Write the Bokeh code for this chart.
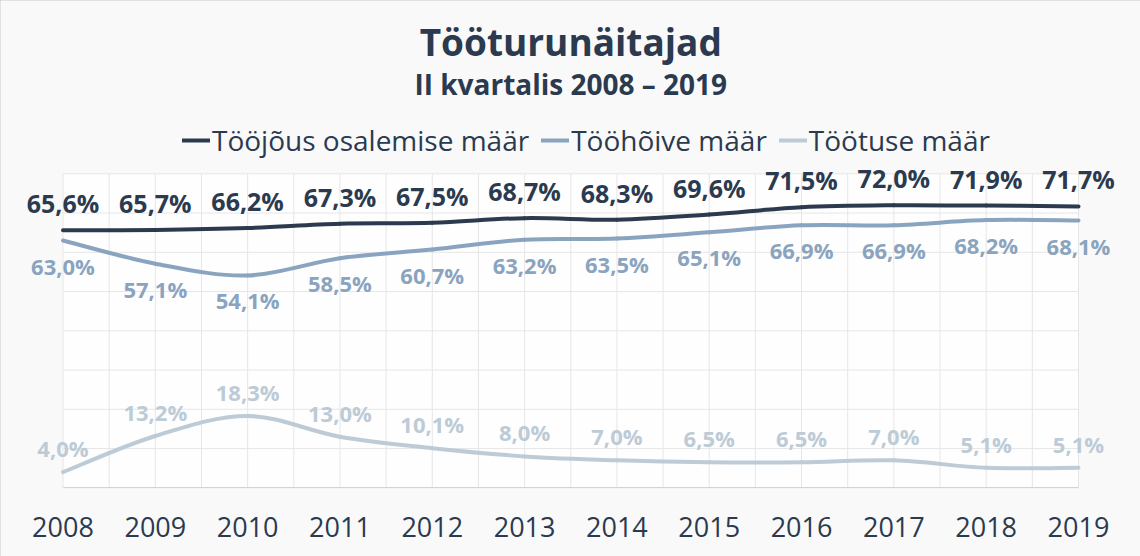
import numpy as np
from bokeh.plotting import figure
from bokeh.models import (ColumnDataSource, LabelSet, Label, Legend, LegendItem,
                          FixedTicker, Range1d)
from bokeh.core.properties import value
from bokeh.embed import file_html
from bokeh.resources import INLINE

# ---- data ----
years = [2008, 2009, 2010, 2011, 2012, 2013, 2014, 2015, 2016, 2017, 2018, 2019]
year_labels = [str(y) for y in years]
osalemise_maar = [65.6, 65.7, 66.2, 67.3, 67.5, 68.7, 68.3, 69.6, 71.5, 72.0, 71.9, 71.7]
hoive_maar = [63.0, 57.1, 54.1, 58.5, 60.7, 63.2, 63.5, 65.1, 66.9, 66.9, 68.2, 68.1]
tootuse_maar = [4.0, 13.2, 18.3, 13.0, 10.1, 8.0, 7.0, 6.5, 6.5, 7.0, 5.1, 5.1]
series_names = ["Tööjõus osalemise määr", "Tööhõive määr", "Töötuse määr"]
title_text = "Tööturunäitajad"
subtitle_text = "II kvartalis 2008 – 2019"

DARK = "#2b3a4f"
MED = "#8aa4bf"
LIGHT = "#bccbd6"
FONT = "Open Sans"

# plotting area (value axis 0..80, years 2008..2019)
Y_MIN, Y_MAX, Y_STEP = 0, 80, 10
X_MIN, X_MAX = years[0], years[-1]

# canvas geometry -> ranges so that the plotting area sits at the right pixels
W, H = 1140, 556
left_px, right_px, top_px, bottom_px = 62.5, 1078.0, 173.3, 487.3
xs_per_px = (X_MAX - X_MIN) / (right_px - left_px)
ys_per_px = (Y_MAX - Y_MIN) / (bottom_px - top_px)
x_range = Range1d(X_MIN - left_px * xs_per_px, X_MAX + (W - right_px) * xs_per_px)
y_range = Range1d(Y_MIN - (H - bottom_px) * ys_per_px, Y_MAX + top_px * ys_per_px)


def smooth_segments(xs, ys):
    """Catmull-Rom style bezier control points for a smoothed line."""
    x = np.asarray(xs, float)
    y = np.asarray(ys, float)
    n = len(x)
    d = dict(x0=[], y0=[], x1=[], y1=[], cx0=[], cy0=[], cx1=[], cy1=[])
    for i in range(n - 1):
        im1 = max(i - 1, 0)
        ip2 = min(i + 2, n - 1)
        d["x0"].append(x[i]); d["y0"].append(y[i])
        d["x1"].append(x[i + 1]); d["y1"].append(y[i + 1])
        d["cx0"].append(x[i] + (x[i + 1] - x[im1]) / 6)
        d["cy0"].append(y[i] + (y[i + 1] - y[im1]) / 6)
        d["cx1"].append(x[i + 1] - (x[ip2] - x[i]) / 6)
        d["cy1"].append(y[i + 1] - (y[ip2] - y[i]) / 6)
    return ColumnDataSource(d)


def fmt(v):
    return f"{v:.1f}".replace(".", ",") + "%"


p = figure(width=W, height=H, output_backend="svg", toolbar_location=None,
           x_range=x_range, y_range=y_range, y_axis_location=None,
           min_border=0)
p.border_fill_color = "#f9f9f9"
p.background_fill_color = "#f9f9f9"
p.outline_line_color = None
p.grid.visible = False
p.styles = {"outline": "1px solid #c8c8c8", "outline-offset": "-1px"}

# plotting area background and grid
p.quad(left=X_MIN, right=X_MAX, bottom=Y_MIN, top=Y_MAX, fill_color="#fefefe",
       line_color=None)
gx = np.arange(X_MIN, X_MAX + 0.001, 0.5)
gy = np.arange(Y_MIN, Y_MAX + 0.001, Y_STEP)
p.segment(x0=gx, y0=Y_MIN, x1=gx, y1=Y_MAX, line_color="#e6e6e6", line_width=1)
p.segment(x0=X_MIN, y0=gy, x1=X_MAX, y1=gy, line_color="#e6e6e6", line_width=1)

ax = p.xaxis[0]
ax.fixed_location = Y_MIN
ax.bounds = (X_MIN, X_MAX)
ax.ticker = FixedTicker(ticks=years)
ax.major_label_overrides = {y: s for y, s in zip(years, year_labels)}
ax.axis_line_color = "#d4d4d4"
ax.major_tick_line_color = None
ax.minor_tick_line_color = None
ax.major_label_standoff = 23
ax.major_label_text_font = FONT
ax.major_label_text_font_size = "27px"
ax.major_label_text_color = DARK

renderers = []
for vals, col in [(osalemise_maar, DARK), (hoive_maar, MED), (tootuse_maar, LIGHT)]:
    src = smooth_segments(years, vals)
    r = p.bezier(x0="x0", y0="y0", x1="x1", y1="y1", cx0="cx0", cy0="cy0",
                 cx1="cx1", cy1="cy1", source=src, line_color=col, line_width=4,
                 line_cap="round")
    renderers.append(r)

label_specs = [
    (osalemise_maar, DARK, 17, "25px"),
    (hoive_maar, MED, -34, "22px"),
    (tootuse_maar, LIGHT, 15, "22px"),
]
for vals, col, off, size in label_specs:
    src = ColumnDataSource(dict(x=years, y=vals, t=[fmt(v) for v in vals]))
    p.add_layout(LabelSet(x="x", y="y", text="t", source=src, y_offset=off,
                          text_align="center", text_baseline="alphabetic",
                          text_font=value(FONT), text_font_style="bold",
                          text_font_size=size, text_color=col))

p.add_layout(Label(x=(X_MIN + X_MAX) / 2, y=113.7, text=title_text, text_align="center",
                   text_baseline="alphabetic", text_font=FONT, text_font_style="bold",
                   text_font_size="37px", text_color=DARK))
p.add_layout(Label(x=(X_MIN + X_MAX) / 2, y=102.8, text=subtitle_text, text_align="center",
                   text_baseline="alphabetic", text_font=FONT, text_font_style="bold",
                   text_font_size="28px", text_color=DARK))

legend = Legend(items=[LegendItem(label=n, renderers=[r]) for n, r in zip(series_names, renderers)],
                orientation="horizontal", location=(182, 397),
                background_fill_alpha=0, border_line_color=None,
                padding=0, margin=0, spacing=12, glyph_width=28, glyph_height=30,
                label_standoff=2, label_text_font=FONT, label_text_font_size="28px",
                label_text_color=DARK, label_height=30)
p.add_layout(legend, "center")

open("out.html", "w").write(file_html(p, INLINE))
